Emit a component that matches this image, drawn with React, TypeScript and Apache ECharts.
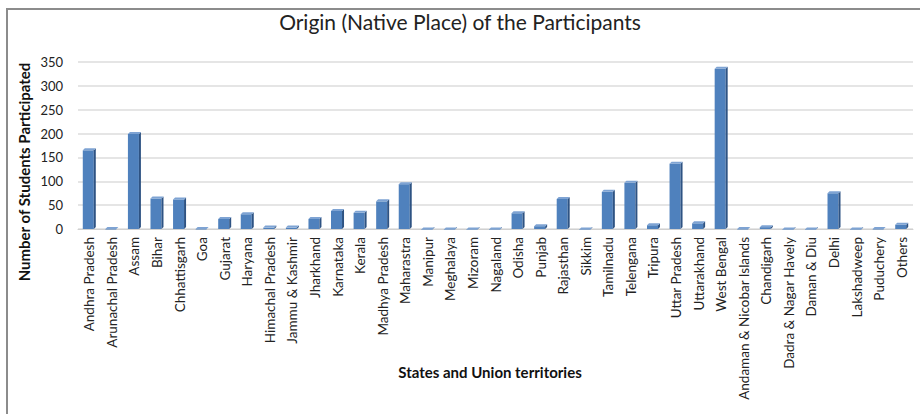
import React, { useEffect, useRef } from "react";
import * as echarts from "echarts";

const categories = [
  "Andhra Pradesh", "Arunachal Pradesh", "Assam", "Bihar", "Chhattisgarh", "Goa", "Gujarat",
  "Haryana", "Himachal Pradesh", "Jammu & Kashmir", "Jharkhand", "Karnataka", "Kerala",
  "Madhya Pradesh", "Maharastra", "Manipur", "Meghalaya", "Mizoram", "Nagaland", "Odisha",
  "Punjab", "Rajasthan", "Sikkim", "Tamilnadu", "Telengana", "Tripura", "Uttar Pradesh",
  "Uttarakhand", "West Bengal", "Andaman & Nicobar Islands", "Chandigarh",
  "Dadra & Nagar Havely", "Daman & Diu", "Delhi", "Lakshadweep", "Puduchery", "Others",
];

const students = [
  167, 2, 201, 66, 64, 2, 23, 33, 5, 5, 23, 40, 36, 60, 96, 1, 1, 1, 1, 35, 8, 65, 1, 80, 99,
  10, 139, 14, 338, 2, 6, 1, 1, 77, 1, 2, 11,
];

const yTicks = { min: 0, max: 350, interval: 50 };

const FONT = "Lato, 'Liberation Sans', sans-serif";

export default function App() {
  const ref = useRef<HTMLDivElement>(null);
  useEffect(() => {
    document.body.style.margin = "0";
    const chart = echarts.init(ref.current!, null, { renderer: "svg" });
    chart.setOption({
      animation: false,
      backgroundColor: "#ffffff",
      textStyle: { fontFamily: FONT },
      title: {
        text: "Origin (Native Place) of the Participants",
        left: "center",
        top: 6,
        textStyle: { fontFamily: FONT, fontSize: 21, fontWeight: "normal", color: "#222" },
      },
      grid: { left: 78, right: 7, top: 62, bottom: 185 },
      xAxis: {
        type: "category",
        data: categories,
        axisLine: { lineStyle: { color: "#d0d0d0" } },
        axisTick: { show: false },
        axisLabel: {
          rotate: 90,
          interval: 0,
          margin: 8,
          fontSize: 13.5,
          fontFamily: FONT,
          color: "#222",
        },
      },
      yAxis: {
        type: "value",
        min: yTicks.min,
        max: yTicks.max,
        interval: yTicks.interval,
        axisLine: { show: false },
        axisTick: { show: false },
        axisLabel: { fontSize: 13, fontFamily: FONT, color: "#222", margin: 15 },
        splitLine: { lineStyle: { color: "#dcdcdc", width: 1.5 } },
      },
      graphic: [
        {
          type: "rect",
          shape: { x: 7, y: 9, width: 2000, height: 2000 },
          style: { fill: "none", stroke: "#8c8c8c", lineWidth: 2 },
          silent: true,
        },
        {
          type: "text",
          x: 24,
          y: 172,
          rotation: Math.PI / 2,
          style: {
            text: "Number of Students Participated",
            fontFamily: FONT,
            fontSize: 15,
            fontWeight: "bold",
            fill: "#111",
            align: "center",
            verticalAlign: "middle",
          },
        },
        {
          type: "text",
          x: 490,
          y: 372,
          style: {
            text: "States and Union territories",
            fontFamily: FONT,
            fontSize: 15,
            fontWeight: "bold",
            fill: "#111",
            align: "center",
            verticalAlign: "middle",
          },
        },
      ],
      series: [
        {
          type: "custom",
          data: students.map((v, i) => [i, v]),
          encode: { x: 0, y: 1 },
          renderItem: (params: any, api: any) => {
            const idx = api.value(0);
            const v = api.value(1);
            const top = api.coord([idx, v]);
            const base = api.coord([idx, 0]);
            const bw = 11;
            const d = 2;
            const x0 = top[0] - bw / 2 - 1;
            const yt = top[1] + 1;
            const yb = base[1];
            return {
              type: "group",
              children: [
                {
                  type: "rect",
                  shape: { x: x0, y: yt, width: bw, height: Math.max(yb - yt, 0.5) },
                  style: { fill: "#4F81BD" },
                },
                {
                  type: "polygon",
                  shape: {
                    points: [
                      [x0 + bw, yt],
                      [x0 + bw + d, yt - d],
                      [x0 + bw + d, yb - d],
                      [x0 + bw, yb],
                    ],
                  },
                  style: { fill: "#2E5383" },
                },
                {
                  type: "polygon",
                  shape: {
                    points: [
                      [x0, yt],
                      [x0 + d, yt - d],
                      [x0 + bw + d, yt - d],
                      [x0 + bw, yt],
                    ],
                  },
                  style: { fill: "#7EA3D3" },
                },
              ],
            };
          },
        },
      ],
    });
    return () => chart.dispose();
  }, []);
  return <div ref={ref} style={{ width: 920, height: 414 }} />;
}
